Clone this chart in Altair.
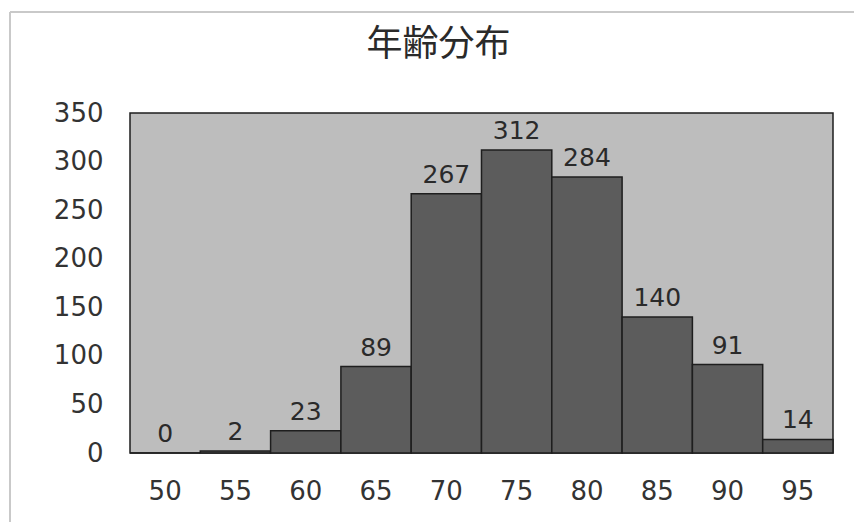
import altair as alt
import pandas as pd

ages = ["50", "55", "60", "65", "70", "75", "80", "85", "90", "95"]
counts = [0, 2, 23, 89, 267, 312, 284, 140, 91, 14]
y_ticks = [0, 50, 100, 150, 200, 250, 300, 350]
title_text = "年齢分布"

df = pd.DataFrame({"age": ages, "count": counts})

FONT = "DejaVu Sans"

x_enc = alt.X("age:N", sort=ages, title=None,
              scale=alt.Scale(paddingInner=0, paddingOuter=0),
              axis=alt.Axis(labelAngle=0, labelFontSize=26, labelFont=FONT,
                            labelColor="#333333", labelPadding=25,
                            domain=False, ticks=False))
y_enc = alt.Y("count:Q", title=None,
              scale=alt.Scale(domain=[0, 350], nice=False),
              axis=alt.Axis(values=y_ticks, labelFontSize=26, labelFont=FONT,
                            labelColor="#333333", labelPadding=27,
                            domain=False, ticks=False, grid=False))

bars = alt.Chart(df).mark_bar(color="#5c5c5c", stroke="#1e1e1e",
                              strokeWidth=1.5).encode(x=x_enc, y=y_enc)

labels = alt.Chart(df).mark_text(baseline="bottom", dy=-6, fontSize=25,
                                 font=FONT, color="#2a2a2a").encode(
    x=alt.X("age:N", sort=ages),
    y=alt.Y("count:Q"),
    text=alt.Text("count:Q"))

frame_top = alt.Chart(df).mark_rule(color="#c8c8c8", strokeWidth=1.5).encode(
    x=alt.value(-120), x2=alt.value(724), y=alt.value(-101))
frame_left = alt.Chart(df).mark_rule(color="#c8c8c8", strokeWidth=1.5).encode(
    x=alt.value(-120), y=alt.value(-101), y2=alt.value(409))

chart = alt.layer(frame_top, frame_left, bars, labels).properties(
    width=703, height=340,
    title=alt.TitleParams(title_text, fontSize=36, font="Noto Sans CJK JP",
                          fontWeight="normal", color="#2a2a2a",
                          anchor="middle", dx=-43, offset=0, dy=53),
    autosize=alt.AutoSizeParams(type="none"),
    padding={"left": 130, "top": 113, "right": 21, "bottom": 69},
    background="#ffffff",
).configure_view(fill="#bdbdbd", stroke="#1e1e1e", strokeWidth=1.5)

chart.save("out.html", embed_options={"renderer": "svg", "actions": False})
